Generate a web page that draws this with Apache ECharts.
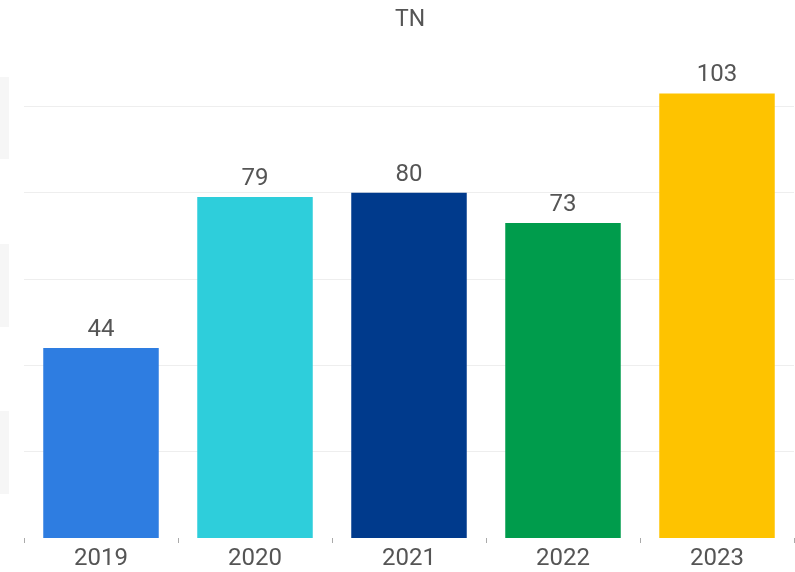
<!DOCTYPE html>
<html>
<head>
<meta charset="utf-8">
<script src="https://cdn.jsdelivr.net/npm/echarts@6/dist/echarts.min.js"></script>
<style>
  html, body { margin: 0; padding: 0; background: #ffffff; }
  #chart { width: 795px; height: 572px; }
</style>
</head>
<body>
<div id="chart"></div>
<script>
// Yearly totals for TN
const years = ['2019', '2020', '2021', '2022', '2023'];
const totals = [44, 79, 80, 73, 103];
const barColors = ['#2e7de1', '#2ecedb', '#003a8c', '#009c4c', '#fec300'];

const chart = echarts.init(document.getElementById('chart'), null, { renderer: 'canvas' });

chart.setOption({
  backgroundColor: '#ffffff',
  animation: false,
  title: {
    text: 'TN',
    left: 405,
    textAlign: 'center',
    top: 4,
    textStyle: { fontFamily: 'Roboto', fontSize: 23, fontWeight: 'normal', color: '#555555' }
  },
  grid: { left: 24, right: 1, top: 20, bottom: 34, containLabel: false },
  xAxis: {
    type: 'category',
    data: years,
    offset: 3,
    axisLine: { show: false },
    axisTick: { show: true, length: 5, lineStyle: { color: '#aaaaaa' } },
    axisLabel: { margin: 6, fontFamily: 'Roboto', fontSize: 24, color: '#555555' }
  },
  yAxis: {
    type: 'value',
    min: 0,
    max: 120,
    interval: 20,
    axisLabel: { show: false },
    axisLine: { show: false },
    axisTick: { show: false },
    splitLine: { show: true, showMinLine: false, showMaxLine: false, lineStyle: { color: '#eeeeee', width: 1 } }
  },
  series: [{
    type: 'bar',
    barCategoryGap: '25%',
    data: totals.map((v, i) => ({ value: v, itemStyle: { color: barColors[i] } })),
    label: {
      show: true,
      position: 'top',
      distance: 6,
      fontFamily: 'Roboto',
      fontSize: 24,
      color: '#555555'
    }
  }],
  graphic: [
    { type: 'rect', left: 0, top: 77, shape: { width: 9, height: 82 }, style: { fill: '#f6f6f6' }, silent: true },
    { type: 'rect', left: 0, top: 244, shape: { width: 9, height: 83 }, style: { fill: '#f6f6f6' }, silent: true },
    { type: 'rect', left: 0, top: 411, shape: { width: 9, height: 83 }, style: { fill: '#f6f6f6' }, silent: true }
  ]
});
</script>
</body>
</html>
